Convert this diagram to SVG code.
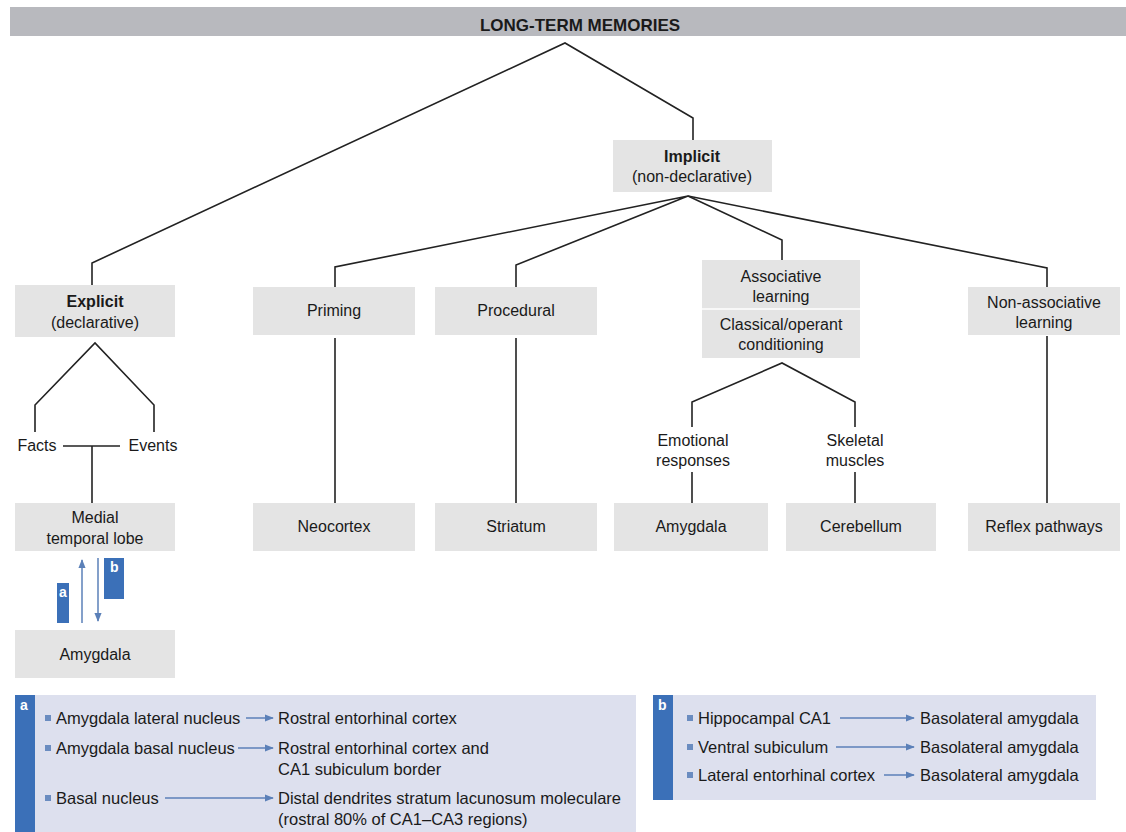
<svg xmlns="http://www.w3.org/2000/svg" width="1126" height="832" viewBox="0 0 1126 832">
<style>
.box{fill:#e4e4e4}
.t{font-family:"Liberation Sans",Arial,sans-serif;font-size:16px;fill:#1a1a1a;text-anchor:middle}
.p{font-family:"Liberation Sans",Arial,sans-serif;font-size:16.5px;fill:#1a1a1a}
.b{font-weight:bold}
.ln{fill:none;stroke:#222;stroke-width:1.6}
.ar{fill:none;stroke:#5b80b8;stroke-width:1.5}
.strip{fill:#3b70b8}
.panel{fill:#dde0ee}
.w{font-family:"Liberation Sans",Arial,sans-serif;font-size:14px;font-weight:bold;fill:#fff}
.bul{fill:#6a8cc0}
</style>
<defs>
<marker id="ah" viewBox="0 0 10 10" refX="9" refY="5" markerWidth="6" markerHeight="6" orient="auto">
<path d="M0,1 L10,5 L0,9 z" fill="#5b80b8"/>
</marker>
</defs>
<rect width="1126" height="832" fill="#fff"/>

<g id="connectors">
<polyline class="ln" points="92,285 92,263 565,43 693,118 693,140"/>
<polyline class="ln" points="335,287 335,267 688,196 516,265 516,287"/>
<polyline class="ln" points="688,196 782,240 782,260"/>
<polyline class="ln" points="688,196 1047,268 1047,287"/>
<polyline class="ln" points="35,432 35,405 95,343 154,405 154,432"/>
<line class="ln" x1="63" y1="446" x2="120" y2="446"/>
<line class="ln" x1="92" y1="446" x2="92" y2="503"/>
<line class="ln" x1="335" y1="338" x2="335" y2="503"/>
<line class="ln" x1="516" y1="338" x2="516" y2="503"/>
<line class="ln" x1="1047" y1="336" x2="1047" y2="503"/>
<polyline class="ln" points="692,427 692,402 782,363 855,402 855,427"/>
<line class="ln" x1="692" y1="472" x2="692" y2="503"/>
<line class="ln" x1="855" y1="472" x2="855" y2="503"/>
<line class="ar" x1="82" y1="623" x2="82" y2="560" marker-end="url(#ah)"/>
<line class="ar" x1="98" y1="558" x2="98" y2="621" marker-end="url(#ah)"/>
</g>

<g id="top">
<rect x="10" y="7" width="1116" height="29" fill="#b8b9be"/>
<text class="t b" x="580" y="31" style="font-size:17px">LONG-TERM MEMORIES</text>
</g>

<g id="implicit">
<rect class="box" x="613" y="140" width="159" height="52"/>
<text class="t b" x="692" y="162">Implicit</text>
<text class="t" x="692" y="182">(non-declarative)</text>
</g>

<g id="explicit">
<rect class="box" x="15" y="285" width="160" height="52"/>
<text class="t b" x="95" y="307">Explicit</text>
<text class="t" x="95" y="328">(declarative)</text>
</g>

<g id="facts"><text class="t" x="37" y="451">Facts</text></g>
<g id="events"><text class="t" x="153" y="451">Events</text></g>

<g id="medial">
<rect class="box" x="15" y="503" width="160" height="48"/>
<text class="t" x="95" y="523">Medial</text>
<text class="t" x="95" y="544">temporal lobe</text>
</g>

<g id="label-a">
<rect class="strip" x="57" y="583" width="12" height="40"/>
<text class="w" x="59" y="597">a</text>
</g>
<g id="label-b">
<rect class="strip" x="104" y="558" width="20" height="41"/>
<text class="w" x="110" y="572">b</text>
</g>

<g id="amygdala-left">
<rect class="box" x="15" y="630" width="160" height="48"/>
<text class="t" x="95" y="660">Amygdala</text>
</g>

<g id="priming">
<rect class="box" x="253" y="287" width="162" height="48"/>
<text class="t" x="334" y="316">Priming</text>
</g>
<g id="procedural">
<rect class="box" x="435" y="287" width="162" height="48"/>
<text class="t" x="516" y="316">Procedural</text>
</g>
<g id="associative">
<rect class="box" x="702" y="260" width="158" height="98"/>
<line x1="702" y1="309" x2="860" y2="309" stroke="#fff" stroke-width="1.5"/>
<text class="t" x="781" y="282">Associative</text>
<text class="t" x="781" y="302">learning</text>
<text class="t" x="781" y="330">Classical/operant</text>
<text class="t" x="781" y="350">conditioning</text>
</g>
<g id="nonassociative">
<rect class="box" x="968" y="287" width="152" height="48"/>
<text class="t" x="1044" y="308">Non-associative</text>
<text class="t" x="1044" y="328">learning</text>
</g>

<g id="emotional">
<text class="t" x="693" y="446">Emotional</text>
<text class="t" x="693" y="466">responses</text>
</g>
<g id="skeletal">
<text class="t" x="855" y="446">Skeletal</text>
<text class="t" x="855" y="466">muscles</text>
</g>

<g id="neocortex">
<rect class="box" x="253" y="503" width="162" height="48"/>
<text class="t" x="334" y="532">Neocortex</text>
</g>
<g id="striatum">
<rect class="box" x="435" y="503" width="162" height="48"/>
<text class="t" x="516" y="532">Striatum</text>
</g>
<g id="amygdala">
<rect class="box" x="614" y="503" width="154" height="48"/>
<text class="t" x="691" y="532">Amygdala</text>
</g>
<g id="cerebellum">
<rect class="box" x="786" y="503" width="150" height="48"/>
<text class="t" x="861" y="532">Cerebellum</text>
</g>
<g id="reflex">
<rect class="box" x="968" y="503" width="152" height="48"/>
<text class="t" x="1044" y="532">Reflex pathways</text>
</g>

<g id="panel-a">
<rect class="panel" x="15" y="695" width="621" height="137"/>
<rect class="strip" x="15" y="695" width="20" height="137"/>
<text class="w" x="20" y="710">a</text>
<rect class="bul" x="45" y="715" width="6" height="6"/>
<text class="p" x="56" y="724">Amygdala lateral nucleus</text>
<line class="ar" x1="246" y1="718" x2="273" y2="718" marker-end="url(#ah)"/>
<text class="p" x="278" y="724">Rostral entorhinal cortex</text>
<rect class="bul" x="45" y="745" width="6" height="6"/>
<text class="p" x="56" y="754">Amygdala basal nucleus</text>
<line class="ar" x1="238" y1="748" x2="273" y2="748" marker-end="url(#ah)"/>
<text class="p" x="278" y="754">Rostral entorhinal cortex and</text>
<text class="p" x="278" y="775">CA1 subiculum border</text>
<rect class="bul" x="45" y="795" width="6" height="6"/>
<text class="p" x="56" y="804">Basal nucleus</text>
<line class="ar" x1="165" y1="798" x2="273" y2="798" marker-end="url(#ah)"/>
<text class="p" x="278" y="804">Distal dendrites stratum lacunosum moleculare</text>
<text class="p" x="278" y="825">(rostral 80% of CA1–CA3 regions)</text>
</g>

<g id="panel-b">
<rect class="panel" x="653" y="695" width="443" height="105"/>
<rect class="strip" x="653" y="695" width="20" height="105"/>
<text class="w" x="658" y="710">b</text>
<rect class="bul" x="687" y="715" width="6" height="6"/>
<text class="p" x="698" y="724">Hippocampal CA1</text>
<line class="ar" x1="840" y1="718" x2="914" y2="718" marker-end="url(#ah)"/>
<text class="p" x="920" y="724">Basolateral amygdala</text>
<rect class="bul" x="687" y="744" width="6" height="6"/>
<text class="p" x="698" y="753">Ventral subiculum</text>
<line class="ar" x1="836" y1="747" x2="914" y2="747" marker-end="url(#ah)"/>
<text class="p" x="920" y="753">Basolateral amygdala</text>
<rect class="bul" x="687" y="772" width="6" height="6"/>
<text class="p" x="698" y="781">Lateral entorhinal cortex</text>
<line class="ar" x1="884" y1="775" x2="914" y2="775" marker-end="url(#ah)"/>
<text class="p" x="920" y="781">Basolateral amygdala</text>
</g>
</svg>
